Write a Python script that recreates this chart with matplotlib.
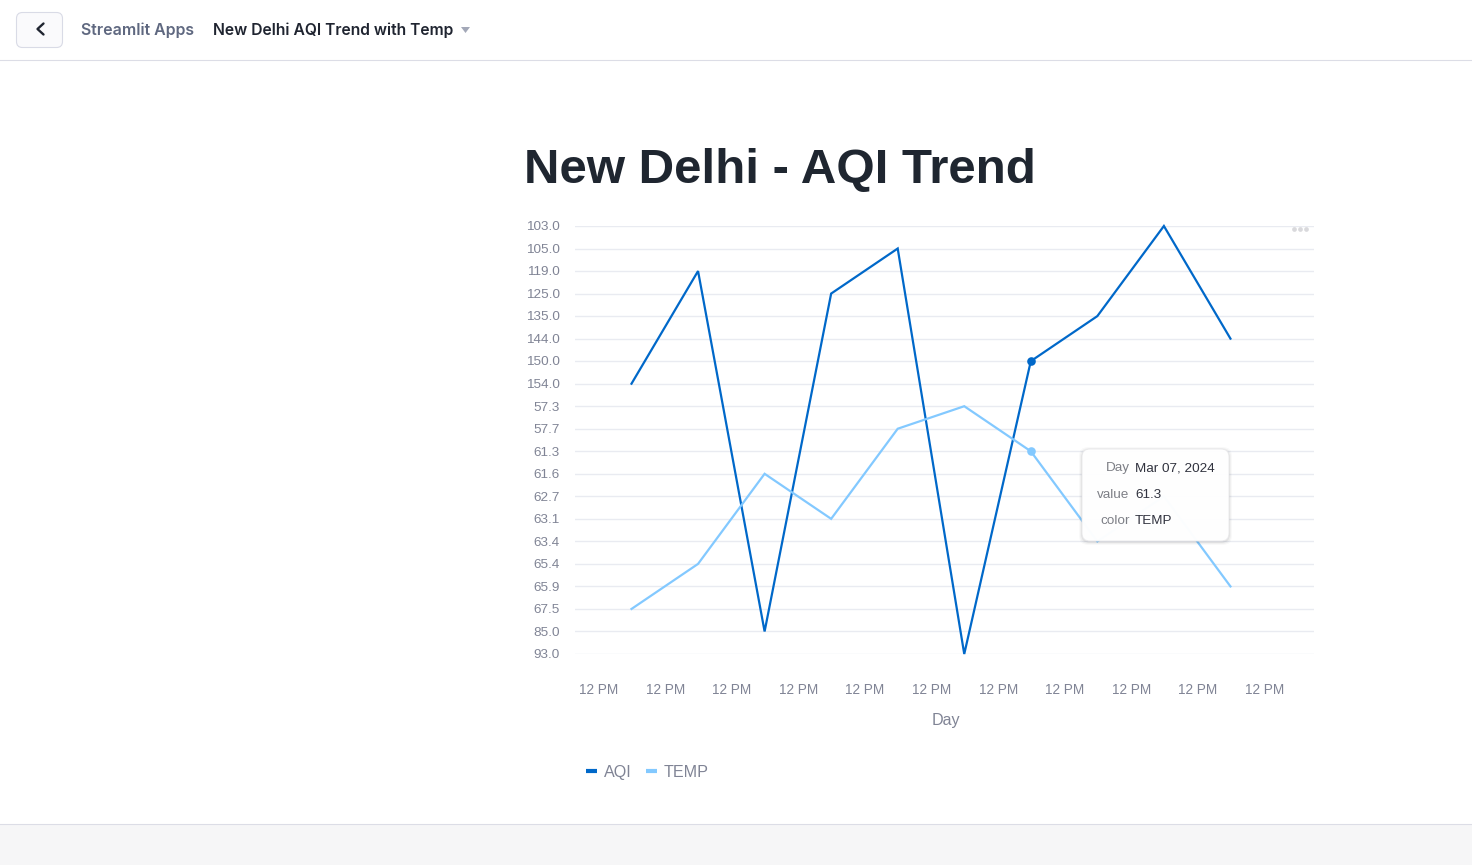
import matplotlib
matplotlib.use("Agg")
import matplotlib.pyplot as plt
import matplotlib.dates as mdates
from matplotlib.lines import Line2D
from matplotlib.patches import FancyBboxPatch, Rectangle, Polygon
from matplotlib.transforms import ScaledTranslation
from datetime import datetime, timedelta

W, H = 1472, 865
plt.rcParams['font.family'] = ['Inter', 'DejaVu Sans']
CHART_FONT = ['Liberation Sans', 'DejaVu Sans']

days = [datetime(2024, 3, d) for d in range(1, 11)]
y_categories = ["103.0", "105.0", "119.0", "125.0", "135.0", "144.0", "150.0", "154.0",
                "57.3", "57.7", "61.3", "61.6", "62.7", "63.1", "63.4", "65.4",
                "65.9", "67.5", "85.0", "93.0"]
aqi = ["154.0", "119.0", "85.0", "125.0", "105.0", "93.0", "150.0", "135.0", "103.0", "144.0"]
temp = ["67.5", "65.4", "61.6", "63.1", "57.7", "57.3", "61.3", "63.4", "62.7", "65.9"]
hover_index = 6
x_tick_dates = [datetime(2024, 2, 29, 12) + timedelta(days=i) for i in range(11)]
x_tick_labels = ["12 PM"] * 11

AQI_C, TEMP_C = "#0068c9", "#83c9ff"
GRID, TICK = "#e9ebf1", "#808495"

fig = plt.figure(figsize=(W / 100, H / 100), dpi=100, facecolor="white")

# page furniture, in pixel coordinates
bg = fig.add_axes([0, 0, 1, 1], zorder=0)
bg.set_xlim(0, W); bg.set_ylim(H, 0); bg.axis("off")
bg.add_patch(Rectangle((0, 824), W, 41, fc="#f6f6f7", ec="none"))
bg.plot([0, W], [823.5, 823.5], color="#dcdde6", lw=0.8)
bg.plot([0, W], [59.5, 59.5], color="#dcdde6", lw=0.8)
bg.add_patch(FancyBboxPatch((16.5, 12.5), 46, 35, boxstyle="round,pad=0,rounding_size=6",
                            fc="#fafafc", ec="#d9dbe6", lw=0.8))
bg.plot([43.5, 37.5, 43.5], [23.5, 29, 34.5], color="#1f2430", lw=1.7,
        solid_capstyle="round", solid_joinstyle="round")
bg.text(81, 30, "Streamlit Apps", fontsize=11.45, color="#5f6880", fontweight="semibold", va="center")
bg.text(213, 30, "New Delhi AQI Trend with Temp", fontsize=11.25, color="#1f2430", fontweight="semibold", va="center")
bg.add_patch(Polygon([[461, 27], [470, 27], [465.5, 33]], fc="#a3a8b8", ec="none"))
bg.text(524, 183.5, "New Delhi - AQI Trend", fontsize=35.5, color="#1f2630", fontweight="bold",
        va="baseline", family=CHART_FONT)

# chart
L, R, T, B = 575, 1314, 226, 654
ax = fig.add_axes([L / W, 1 - B / H, (R - L) / W, (B - T) / H], zorder=1)
ax.patch.set_alpha(0)
ypos = {c: i for i, c in enumerate(y_categories)}
x0 = mdates.date2num(days[0])
per_day = 66.55
px0 = 631.5
ax.xaxis_date()
ax.set_xlim(x0 + (L - px0) / per_day, x0 + (R - px0) / per_day)
ax.set_ylim(len(y_categories) - 1, 0)
ax.set_yticks(range(len(y_categories)), y_categories, family=CHART_FONT)
ax.set_xticks(mdates.date2num(x_tick_dates), x_tick_labels, family=CHART_FONT)
ax.grid(axis="y", color=GRID, lw=1)
ax.set_axisbelow(True)
for s in ax.spines.values():
    s.set_visible(False)
ax.tick_params(axis="both", length=0, labelsize=9.8, labelcolor=TICK)
ax.tick_params(axis="y", labelsize=9.7, pad=11)
ax.tick_params(axis="x", pad=21)
for lab in ax.get_yticklabels():
    lab.set_transform(lab.get_transform() + ScaledTranslation(0, 0.2 / 100, fig.dpi_scale_trans))
for lab in ax.get_xticklabels():
    lab.set_transform(lab.get_transform() + ScaledTranslation(0.7 / 100, 0, fig.dpi_scale_trans))
ax.set_xlabel("Day", fontsize=11.6, color=TICK, family=CHART_FONT)
ax.xaxis.set_label_coords((946 - L) / (R - L), -(721 - B) / (B - T), transform=ax.transAxes)
ax.xaxis.label.set_va("center")

aqi_y = [ypos[v] for v in aqi]
temp_y = [ypos[v] for v in temp]
ax.plot(days, aqi_y, color=AQI_C, lw=1.6, solid_joinstyle="miter", clip_on=False, zorder=3)
ax.plot(days, temp_y, color=TEMP_C, lw=1.6, solid_joinstyle="miter", clip_on=False, zorder=3)
ax.plot(days[hover_index], aqi_y[hover_index], "o", color=AQI_C, ms=6.2, mew=0, zorder=4)
ax.plot(days[hover_index], temp_y[hover_index], "o", color=TEMP_C, ms=6.2, mew=0, zorder=4)

ax.legend(handles=[Line2D([], [], color=AQI_C, lw=3, label="AQI", solid_capstyle="butt"),
                   Line2D([], [], color=TEMP_C, lw=3, label="TEMP", solid_capstyle="butt")],
          loc="center left", bbox_to_anchor=(586 / W, 1 - 772.5 / H), bbox_transform=fig.transFigure,
          ncol=2, frameon=False, prop={"family": CHART_FONT, "size": 11.6}, labelcolor=TICK,
          handlelength=0.68, handletextpad=0.45, columnspacing=0.85, borderpad=0, borderaxespad=0)

# overlay: menu dots and tooltip
ov = fig.add_axes([0, 0, 1, 1], zorder=2)
ov.set_xlim(0, W); ov.set_ylim(H, 0); ov.axis("off"); ov.patch.set_alpha(0)
ov.plot([1294, 1300, 1306], [228.5, 228.5, 228.5], "o", color="#d9d9dc", ms=3.4, mew=0)
for off, a in [(3, .025), (2, .035), (1, .05)]:
    ov.add_patch(FancyBboxPatch((1082 - off, 449 - off + 1), 147 + 2 * off, 92 + 2 * off,
                                boxstyle="round,pad=0,rounding_size=9", fc="#000000", ec="none", alpha=a))
ov.add_patch(FancyBboxPatch((1082, 449), 147, 92, boxstyle="round,pad=0,rounding_size=8",
                            fc="#ffffff", ec="#e8e8ea", lw=0.6, alpha=0.98))
rows = [("Day", "Mar 07, 2024", 468.5), ("value", "61.3", 494.5), ("color", "TEMP", 520.5)]
for k, v, y in rows:
    ov.text(1129.5, y, k, fontsize=9.7, color="#7d7f86", ha="right", va="center", family=CHART_FONT)
    ov.text(1135, y, v, fontsize=9.7, color="#31333f", ha="left", va="center", family=CHART_FONT)

fig.savefig("out.png", dpi=100)
